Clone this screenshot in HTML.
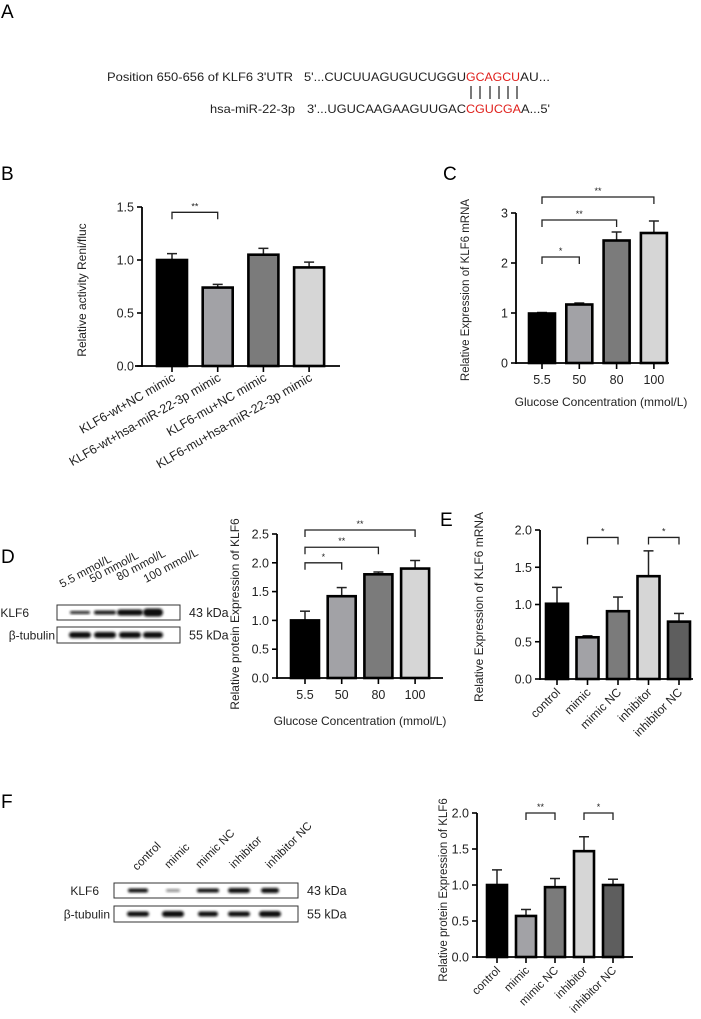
<!DOCTYPE html>
<html><head><meta charset="utf-8"><style>
html,body{margin:0;padding:0;background:#fff;}
svg{display:block;font-family:"Liberation Sans",Arial,sans-serif;}
</style></head><body>
<svg id="fig" width="701" height="1019" viewBox="0 0 701 1019" xmlns="http://www.w3.org/2000/svg">
<defs><filter id="bl" x="-20%" y="-50%" width="140%" height="200%"><feGaussianBlur stdDeviation="1.2"/></filter></defs>
<!-- Panel A -->
<text x="1" y="18" font-size="19">A</text>
<text x="107" y="81" font-size="12" fill="#222" textLength="186" lengthAdjust="spacingAndGlyphs">Position 650-656 of KLF6 3'UTR</text>
<g font-size="12" fill="#222">
<text x="304" y="81" textLength="162" lengthAdjust="spacingAndGlyphs">5'...CUCUUAGUGUCUGGU</text>
<text x="466" y="81" fill="#e0201c" textLength="54" lengthAdjust="spacingAndGlyphs">GCAGCU</text>
<text x="520" y="81" textLength="30" lengthAdjust="spacingAndGlyphs">AU...</text></g>
<g stroke="#222" stroke-width="1.2">
<line x1="471" y1="86" x2="471" y2="99"/><line x1="480" y1="86" x2="480" y2="99"/><line x1="490" y1="86" x2="490" y2="99"/><line x1="499" y1="86" x2="499" y2="99"/><line x1="508" y1="86" x2="508" y2="99"/><line x1="517" y1="86" x2="517" y2="99"/></g>
<text x="210" y="113" font-size="12" fill="#222" textLength="85" lengthAdjust="spacingAndGlyphs">hsa-miR-22-3p</text>
<g font-size="12" fill="#222">
<text x="307" y="113" textLength="159" lengthAdjust="spacingAndGlyphs">3'...UGUCAAGAAGUUGAC</text>
<text x="466" y="113" fill="#e0201c" textLength="55" lengthAdjust="spacingAndGlyphs">CGUCGA</text>
<text x="521" y="113" textLength="29" lengthAdjust="spacingAndGlyphs">A...5'</text></g>
<text x="1" y="180" font-size="19">B</text>
<text x="443" y="180" font-size="19">C</text>
<text x="1" y="563" font-size="19">D</text>
<text x="440" y="526" font-size="19">E</text>
<text x="1" y="808" font-size="19">F</text>
<g id="charts"></g>
<g id="blots"></g>
</svg>
<script>
// ---- Chart data ----
const bCats = ["KLF6-wt+NC mimic","KLF6-wt+hsa-miR-22-3p  mimic","KLF6-mu+NC mimic","KLF6-mu+hsa-miR-22-3p  mimic"];
const bVals = [1.0, 0.74, 1.05, 0.93];
const bErrs = [1.06, 0.77, 1.11, 0.98];
const bTicks = [0, 0.5, 1.0, 1.5];
const bTickLabels = ["0.0","0.5","1.0","1.5"];
const bSigs = [[0,1,1.45,"**"]];

const cCats = ["5.5","50","80","100"];
const cVals = [0.99, 1.17, 2.45, 2.6];
const cErrs = [1.01, 1.2, 2.62, 2.84];
const cTicks = [0,1,2,3];
const cTickLabels = ["0","1","2","3"];
const cSigs = [[0,1,2.12,"*"],[0,2,2.86,"**"],[0,3,3.32,"**"]];

const dCats = ["5.5","50","80","100"];
const dVals = [1.0, 1.42, 1.8, 1.9];
const dErrs = [1.16, 1.57, 1.84, 2.04];
const dTicks = [0,0.5,1,1.5,2,2.5];
const dTickLabels = ["0.0","0.5","1.0","1.5","2.0","2.5"];
const dSigs = [[0,1,2.0,"*"],[0,2,2.27,"**"],[0,3,2.57,"**"]];

const eCats = ["control","mimic","mimic NC","inhibitor","inhibitor NC"];
const eVals = [1.01, 0.56, 0.91, 1.38, 0.77];
const eErrs = [1.23, 0.58, 1.1, 1.72, 0.88];
const eTicks = [0,0.5,1,1.5,2];
const eTickLabels = ["0.0","0.5","1.0","1.5","2.0"];
const eSigs = [[1,2,1.9,"*"],[3,4,1.9,"*"]];

const fCats = ["control","mimic","mimic NC","inhibitor","inhibitor NC"];
const fVals = [1.0, 0.57, 0.97, 1.47, 1.0];
const fErrs = [1.21, 0.66, 1.09, 1.67, 1.08];
const fTicks = [0,0.5,1,1.5,2];
const fTickLabels = ["0.0","0.5","1.0","1.5","2.0"];
const fSigs = [[1,2,2.0,"**"],[3,4,2.0,"*"]];

const NS="http://www.w3.org/2000/svg";
const root=document.getElementById('charts');
function mk(tag,attrs,parent){const e=document.createElementNS(NS,tag);for(const k in attrs)e.setAttribute(k,attrs[k]);(parent||root).appendChild(e);return e;}

function chart(id,cfg,cats,vals,errs,ticks,tickLabels,sigs){
  const g=mk('g',{});
  
  
  const yS=v=>cfg.y0-v/cfg.vmax*(cfg.y0-cfg.yTop);
  const xS=i=>cfg.first+i*cfg.step;
  cats.forEach((c,i)=>{
    const cx=xS(i),top=yS(vals[i]);
    const eb=mk('line',{x1:cx,x2:cx,y1:top,y2:yS(errs[i]),stroke:'#222','stroke-width':1.5},g);
    
    
    const cap=mk('line',{x1:cx-5,x2:cx+5,y1:yS(errs[i]),y2:yS(errs[i]),stroke:'#222','stroke-width':1.5},g);
    
    
    const r=mk('rect',{x:cx-cfg.bw/2,y:top,width:cfg.bw,height:cfg.y0-top,fill:cfg.colors[i],stroke:'#000','stroke-width':2.6},g);
    
    
    mk('line',{x1:cx,x2:cx,y1:cfg.y0,y2:cfg.y0+6,stroke:'#000','stroke-width':1.6},g);
    let t;
    if(cfg.rot){
      t=mk('text',{x:cx+4,y:cfg.y0+14,'font-size':cfg.fs,'text-anchor':'end',transform:`rotate(${cfg.rot} ${cx+4} ${cfg.y0+14})`,fill:'#222'},g);
    } else {
      t=mk('text',{x:cx,y:cfg.y0+21,'font-size':12.5,'text-anchor':'middle',fill:'#222'},g);
    }
    t.textContent=c;
    
    
  });
  const ya=mk('line',{x1:cfg.x0,x2:cfg.x0,y1:yS(ticks[ticks.length-1]),y2:cfg.y0+1,stroke:'#000','stroke-width':1.8},g);
  
  
  const xa=mk('line',{x1:cfg.x0-(cfg.xl||0),x2:cfg.xEnd,y1:cfg.y0,y2:cfg.y0,stroke:'#000','stroke-width':1.8},g);
  
  
  ticks.forEach((v,i)=>{
    mk('line',{x1:cfg.x0-5,x2:cfg.x0,y1:yS(v),y2:yS(v),stroke:'#000','stroke-width':1.6},g);
    const t=mk('text',{x:cfg.x0-8,y:yS(v)+4.5,'font-size':12.5,'text-anchor':'end',fill:'#222'},g);
    t.textContent=tickLabels[i];
    
    
  });
  sigs.forEach(s=>{
    const x1=xS(s[0]),x2=xS(s[1]),yy=yS(s[2]);
    const p=mk('path',{d:`M${x1} ${yy+7}V${yy}H${x2}V${yy+7}`,fill:'none',stroke:'#222','stroke-width':1.3},g);
    
    
    const t=mk('text',{x:(x1+x2)/2,y:yy-3,'font-size':9,'text-anchor':'middle',fill:'#222'},g);
    t.textContent=s[3];
    
    
  });
  const yt=mk('text',{x:cfg.ytx,y:cfg.yty,'font-size':cfg.ytfs||11.5,'text-anchor':'middle',transform:`rotate(-90 ${cfg.ytx} ${cfg.yty})`,fill:'#222'},g);
  yt.textContent=cfg.ytitle;
  
  
  if(cfg.xtitle){
    const xt=mk('text',{x:cfg.xtx,y:cfg.xty,'font-size':12,'text-anchor':'middle',fill:'#222'},g);
    xt.textContent=cfg.xtitle;
    
    
  }
}
const g4=['#000','#a2a2a6','#7b7b7b','#d6d6d6'];
const g5=['#000','#a2a2a6','#7b7b7b','#d6d6d6','#5e5e5e'];
chart('b',{x0:142,xEnd:340,xl:7,y0:366,yTop:207,vmax:1.5,first:172,step:45.7,bw:30,colors:g4,rot:-30,fs:12.5,ytitle:'Relative activity Reni/fluc',ytx:86,yty:290,ytfs:12},bCats,bVals,bErrs,bTicks,bTickLabels,bSigs);
chart('c',{x0:516,xEnd:669,y0:363,yTop:213,vmax:3,first:542,step:37.3,bw:26,colors:g4,ytitle:'Relative Expression of KLF6 mRNA',ytx:469,yty:290,xtitle:'Glucose Concentration (mmol/L)',xtx:601,xty:406},cCats,cVals,cErrs,cTicks,cTickLabels,cSigs);
chart('d',{x0:277,xEnd:443,y0:678,yTop:534,vmax:2.5,first:305,step:36.7,bw:28,colors:g4,ytitle:'Relative protein Expression of KLF6',ytx:239,yty:614,ytfs:12,xtitle:'Glucose Concentration (mmol/L)',xtx:360,xty:725},dCats,dVals,dErrs,dTicks,dTickLabels,dSigs);
chart('e',{x0:540,xEnd:693,y0:679,yTop:530,vmax:2,first:557,step:30.5,bw:22,colors:g5,rot:-45,fs:12,ytitle:'Relative Expression of KLF6 mRNA',ytx:483,yty:607,ytfs:12},eCats,eVals,eErrs,eTicks,eTickLabels,eSigs);
chart('f',{x0:477,xEnd:633,y0:957,yTop:813,vmax:2,first:497,step:29,bw:20,colors:g5,rot:-45,fs:11.5,ytitle:'Relative protein Expression of KLF6',ytx:447,yty:890,ytfs:11.5},fCats,fVals,fErrs,fTicks,fTickLabels,fSigs);

// ---- Western blots ----
const broot=document.getElementById('blots');
function blot(name,box,bands,label,kda,lx){
  const g=mk('g',{},broot);
  
  
  mk('rect',{x:box[0],y:box[1],width:box[2]-box[0],height:box[3]-box[1],fill:'#fff',stroke:'#333','stroke-width':1},g);
  const cy=(box[1]+box[3])/2;
  bands.forEach(b=>{mk('rect',{x:b[0]-b[1]/2,y:cy-b[2]/2,width:b[1],height:b[2],rx:b[2]/2,fill:'#111',opacity:b[3],filter:'url(#bl)'},g);});
  const t=mk('text',{x:lx,y:cy+4.5,'font-size':12,'text-anchor':'end',fill:'#222'},g);t.textContent=label;
  const k=mk('text',{x:box[2]+9,y:cy+4.5,'font-size':12.5,fill:'#222'},g);k.textContent=kda;
}
blot('d-klf6-blot',[57,605,180,620],[[80,20,3,0.9],[105,22,4,0.95],[130,26,6,1],[153,20,8,1]],'KLF6','43 kDa',29);
blot('d-tubulin-blot',[57,627,180,643],[[80,22,6,1],[105,22,6,1],[130,22,6,1],[153,20,6,1]],'β-tubulin','55 kDa',55);
blot('f-klf6-blot',[114,883,298,898],[[138,20,4,1],[173,14,3,0.45],[208,22,4,1],[239,22,5,1],[270,18,5,1]],'KLF6','43 kDa',99);
blot('f-tubulin-blot',[114,906,298,922],[[138,22,5,1],[173,22,6,1],[208,20,5,1],[239,22,5,1],[270,22,6,1]],'β-tubulin','55 kDa',110);
function lanes(labels,xs,ys,rot,fs,name){
  labels.forEach((l,i)=>{
    const t=mk('text',{x:xs[i],y:ys[i],'font-size':fs,fill:'#222',transform:`rotate(${rot} ${xs[i]} ${ys[i]})`},broot);
    t.textContent=l;
    
    
  });
}
lanes(['5.5 mmol/L','50 mmol/L','80 mmol/L','100 mmol/L'],[62,92,119,146],[588,583,581,583],-28,11.5,'d-lane-label');
lanes(['control','mimic','mimic NC','inhibitor','inhibitor NC'],[137,169,200,234,270],[871,869,869,869,869],-45,11.5,'f-lane-label');
</script>
</body></html>
